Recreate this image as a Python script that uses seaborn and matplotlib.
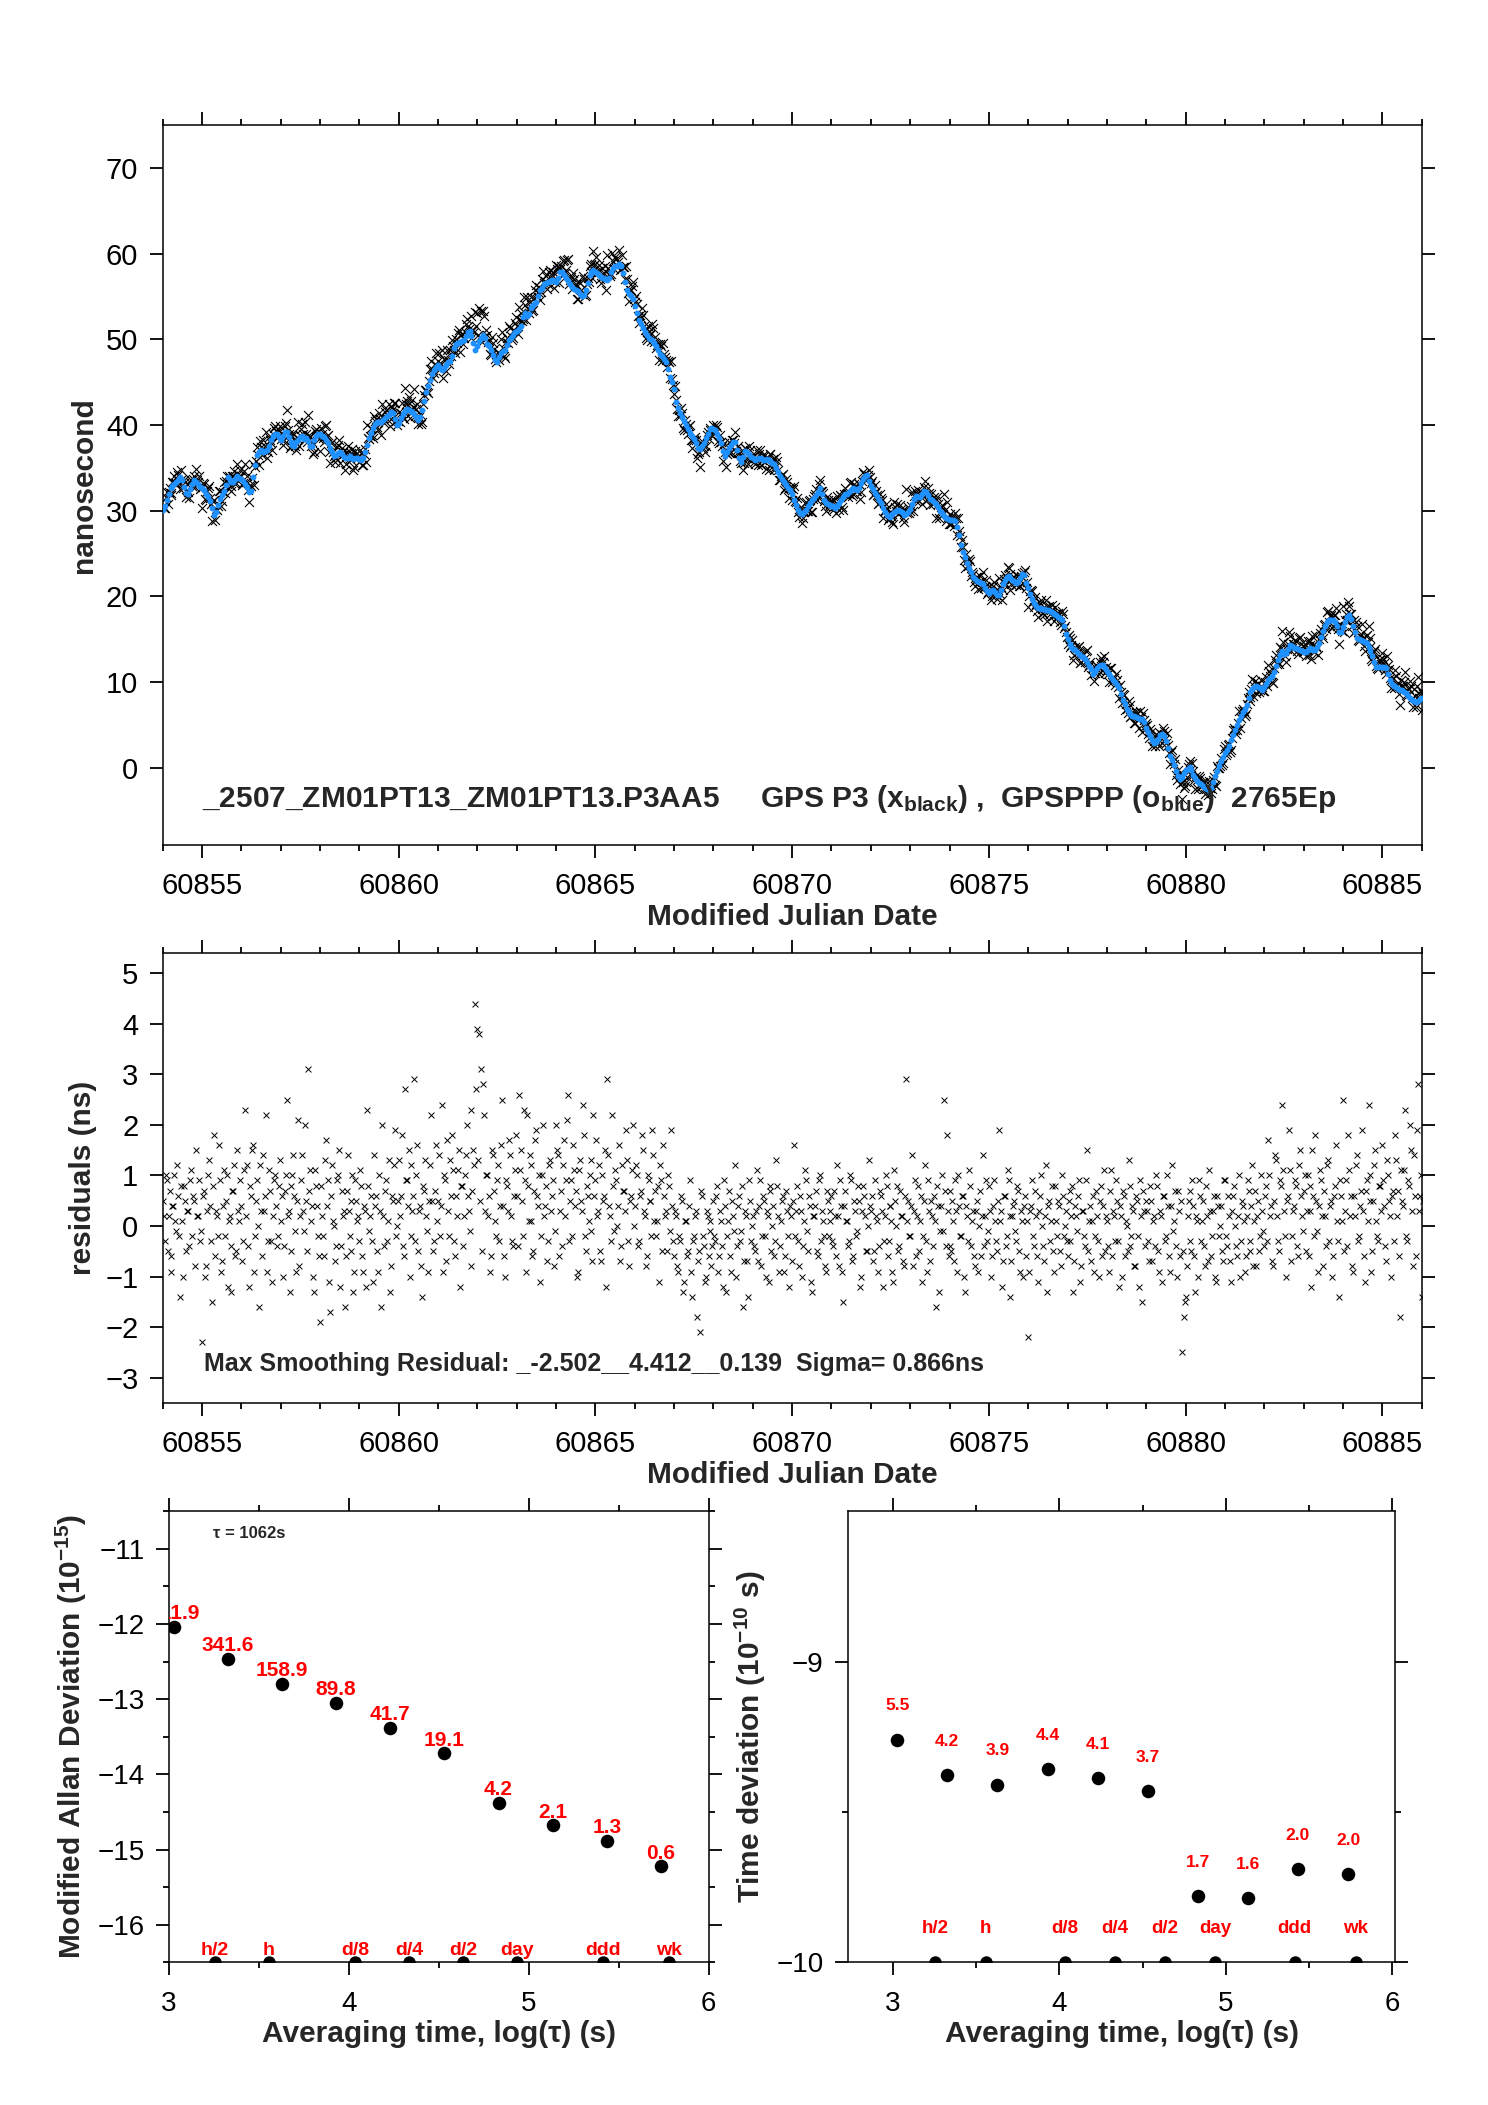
import numpy as np
import matplotlib
matplotlib.use("Agg")
import matplotlib.pyplot as plt
import seaborn as sns
from matplotlib.ticker import FixedLocator, MultipleLocator

# ---------------- data ----------------
mjd_start = 60854.0
mjd_step = 0.05
mjd_half_offset = 0.025

# smoothed (GPSPPP, blue) curve, ns, one value every 0.05 d
blue_ns = [
    30.1,30.6,31.3,32.0,32.7,32.9,33.1,33.3,33.6,33.9,33.6,32.8,32.1,31.9,32.5,33.1,33.6,33.4,33.1,32.8,
    32.6,32.4,32.0,31.6,31.1,30.3,29.5,29.9,30.7,31.4,31.8,32.3,33.0,33.9,33.6,33.3,33.4,33.7,34.0,33.8,
    33.7,33.5,33.1,32.8,32.2,32.3,33.9,35.3,36.5,36.9,37.1,36.9,37.0,37.1,37.5,38.2,38.7,38.9,38.9,38.6,
    38.3,38.7,39.2,39.2,38.6,38.0,37.7,37.6,38.0,38.3,38.6,38.7,38.4,38.5,38.1,37.5,37.6,38.2,38.7,39.0,
    38.9,38.7,38.6,38.3,37.9,37.3,36.8,36.4,36.5,36.7,36.8,36.6,36.3,36.1,36.2,36.4,36.2,36.0,36.1,36.1,
    36.0,35.9,36.2,36.9,37.7,38.5,39.1,39.6,40.1,40.3,40.4,40.4,40.6,40.8,41.0,41.2,41.5,41.4,40.7,40.0,
    40.2,40.8,41.3,41.6,41.9,41.8,41.6,41.5,41.3,40.9,40.6,40.9,41.7,42.8,43.9,44.6,45.3,46.0,46.4,46.8,
    47.0,46.7,46.4,46.7,47.0,47.3,47.5,48.1,49.0,49.4,49.6,49.7,49.8,49.9,50.4,50.9,51.0,50.4,49.6,48.8,
    49.2,49.8,50.2,50.5,50.1,49.5,49.2,48.8,48.2,47.6,47.3,47.9,48.4,48.6,48.8,49.3,49.9,50.2,50.5,50.8,
    51.0,51.2,51.6,52.6,53.1,52.7,53.0,53.7,53.9,54.1,54.4,55.1,55.7,56.0,56.4,56.6,56.7,56.8,56.9,56.8,
    56.7,57.2,57.9,57.9,57.5,57.2,56.8,56.4,56.1,55.9,55.7,55.6,55.3,55.0,55.2,55.7,56.6,57.5,57.9,58.1,
    57.9,57.7,57.5,57.3,57.1,57.0,56.9,57.2,57.9,58.3,58.5,58.6,58.8,58.6,57.7,56.7,55.7,55.3,55.1,54.7,
    53.9,53.1,52.2,51.8,51.3,50.9,50.5,50.1,50.0,49.9,49.6,49.2,48.7,48.3,48.0,47.7,47.3,46.5,45.6,45.0,
    44.2,42.7,42.0,41.4,40.9,40.5,40.0,39.5,39.1,38.7,38.4,37.9,37.3,37.2,37.5,37.9,38.5,39.0,39.5,39.6,
    39.5,39.4,39.0,38.5,37.9,37.0,36.4,36.8,37.3,37.7,38.0,38.0,37.1,36.1,35.7,36.3,37.0,36.9,36.6,36.3,
    36.1,35.9,36.0,36.2,36.1,35.9,35.9,36.0,35.9,35.8,35.6,35.4,35.0,34.5,34.0,33.7,33.3,33.0,32.7,32.4,
    32.0,31.3,30.7,30.1,29.7,29.6,29.8,30.1,30.5,30.9,31.2,31.5,31.8,32.2,32.6,32.0,31.3,30.9,30.8,30.7,
    30.6,30.5,30.3,30.5,30.9,31.3,31.6,31.9,32.0,32.2,32.4,32.6,32.5,32.4,32.6,33.2,33.7,34.1,34.2,33.5,
    32.9,32.5,32.1,31.7,31.3,30.9,30.3,29.8,29.5,29.4,29.3,29.6,29.9,30.0,30.1,30.0,29.8,29.5,29.6,29.9,
    30.2,30.8,31.4,31.7,31.6,31.6,31.9,32.3,32.2,31.8,31.4,31.2,31.0,30.8,30.4,30.0,29.7,29.4,29.2,29.0,
    28.9,28.9,28.9,28.8,28.1,27.2,26.0,25.2,24.6,23.9,23.3,22.8,22.3,22.0,21.8,21.7,21.6,21.4,21.0,20.6,
    20.4,20.6,20.8,20.5,20.2,20.2,20.8,21.4,21.9,22.3,22.4,22.2,21.9,21.8,21.6,21.7,22.1,22.6,22.5,21.6,
    21.0,20.3,19.7,19.2,18.9,18.7,18.6,18.5,18.5,18.4,18.4,18.3,18.2,18.0,17.8,17.6,17.5,17.3,16.5,15.6,
    15.0,14.4,14.1,13.9,13.7,13.5,13.3,13.1,12.9,12.7,12.3,11.9,11.5,11.0,11.3,11.7,11.9,12.0,12.0,11.6,
    11.3,10.9,10.6,10.3,10.0,9.7,9.3,8.6,7.9,7.4,6.9,6.5,6.3,6.1,6.0,5.9,5.8,5.7,5.7,5.3,
    4.7,4.2,3.7,3.3,2.9,3.0,3.4,3.8,4.0,3.7,3.1,2.3,1.4,0.9,0.3,-0.4,-1.0,-1.3,-1.1,-0.6,
    -0.3,-0.1,0.1,-0.3,-0.8,-1.2,-1.5,-1.8,-1.9,-2.1,-2.3,-2.5,-2.6,-2.3,-1.7,-1.0,-0.4,0.2,0.8,1.3,
    1.7,2.1,2.6,3.2,3.8,4.4,5.0,5.6,6.1,6.5,6.9,7.3,8.1,8.8,9.2,9.4,9.5,9.4,9.3,9.1,
    9.4,9.8,10.3,10.5,10.7,11.2,11.9,12.6,13.2,13.6,13.3,13.4,13.9,14.3,14.2,14.0,14.0,13.9,13.8,13.6,
    13.5,13.5,13.8,14.0,13.9,13.7,13.7,14.1,14.6,15.3,16.0,16.6,17.0,17.3,17.3,17.2,17.0,16.5,15.9,15.9,
    16.4,17.0,17.6,17.8,17.4,16.6,15.8,15.2,15.0,14.9,14.8,14.7,14.6,14.1,13.6,13.0,12.4,11.8,11.8,11.8,
    11.8,11.8,11.7,11.0,10.3,9.8,9.6,9.4,9.2,9.1,9.1,8.9,8.7,8.4,8.1,7.9,7.8,7.7,7.8,8.0,
    8.1,
]

# residuals of GPS P3 (black) about the smoothed curve, ns (epochs on the 0.05 d grid)
resid_ns = [
    0.5,-0.3,0.9,0.2,-0.6,0.4,1.0,-0.1,0.6,-1.4,0.1,0.8,-0.5,0.3,0.9,-0.2,0.5,1.5,0.2,-0.3,
    -2.3,0.7,-0.8,1.0,0.4,-1.5,1.8,0.3,-0.2,0.9,-0.7,1.1,0.5,-1.2,0.2,-0.4,0.7,-0.6,1.5,0.1,
    0.4,-0.3,2.3,1.2,-1.2,0.6,1.6,-0.2,0.9,-1.6,0.3,1.4,0.6,-0.9,1.1,-0.3,0.2,1.0,-0.4,0.8,
    0.1,-1.0,0.7,2.5,0.3,-0.5,1.0,0.6,-0.9,2.1,0.2,1.4,-0.1,0.5,3.1,1.1,0.4,-1.3,0.8,-0.2,
    -1.9,0.2,-0.6,1.7,0.9,-1.7,1.2,0.0,-0.4,1.0,-1.2,0.7,0.3,-0.6,1.4,-0.2,0.5,-1.3,0.9,0.1,
    -0.3,0.8,-0.9,0.3,2.3,-0.1,0.6,-1.1,0.4,-0.5,1.0,-1.6,0.2,0.7,-0.3,1.3,-0.8,0.5,1.9,0.0,
    1.3,0.6,-0.4,2.7,0.9,1.5,-0.2,0.3,2.9,1.0,-0.5,0.4,-1.4,0.7,0.2,-0.9,1.2,0.5,-0.3,1.6,
    0.5,-0.2,2.4,1.0,-0.7,0.3,1.3,1.8,-0.3,0.6,1.1,-1.2,0.8,0.2,1.4,0.6,-0.1,2.3,1.5,4.4,
    3.9,3.8,3.1,2.8,0.3,1.0,0.6,-0.6,1.4,0.1,0.9,-0.3,1.6,0.4,-1.0,0.8,1.7,0.2,-0.4,1.1,
    0.6,2.6,1.5,-0.2,0.9,2.2,0.1,1.2,-0.6,0.7,1.9,0.4,-1.1,1.0,0.2,0.8,-0.3,1.3,0.6,-0.8,
    2.0,1.4,0.3,-0.4,1.7,0.9,2.6,0.5,-0.2,1.1,0.7,-0.9,1.3,0.3,1.8,-0.5,0.6,1.0,-0.1,2.2,
    0.9,0.2,1.2,-0.7,0.5,1.5,2.9,0.4,-0.3,0.8,1.1,0.0,1.6,-0.4,0.7,0.3,1.3,-0.8,0.6,2.0,
    0.4,1.0,-0.3,0.7,1.5,0.2,-0.6,0.9,0.5,1.9,0.1,-0.2,0.8,1.2,-0.5,0.6,0.3,1.0,-0.1,0.4,
    -0.6,0.2,-0.9,-0.3,0.5,-1.1,0.1,-0.5,0.9,-1.4,-0.2,0.3,-0.7,-2.1,0.6,-0.4,-1.0,0.2,-0.1,-0.8,
    0.5,-0.3,0.8,-0.6,0.1,-1.2,0.4,-0.2,0.7,-0.9,0.2,1.2,-0.4,0.6,-0.1,-1.6,0.3,-0.7,0.9,-0.3,
    0.2,-0.5,1.1,0.4,-0.8,0.6,-0.2,0.3,-1.1,0.8,0.0,-0.6,1.3,0.2,-0.4,0.5,-0.9,0.7,-0.2,0.4,
    -0.7,1.6,0.3,-0.3,0.6,-1.0,0.1,0.9,-0.5,0.4,-1.3,0.2,0.7,-0.6,1.0,0.3,-0.2,-0.9,0.5,0.1,
    0.6,-0.4,0.2,1.2,-0.8,0.4,-1.5,0.7,0.1,-0.3,0.9,-0.6,0.3,-0.1,0.5,-1.0,0.8,0.2,-0.5,1.3,
    0.3,-0.7,0.9,0.1,-0.4,0.6,-1.2,0.2,0.8,-0.3,0.4,-0.9,1.1,0.0,-0.5,0.7,0.2,-0.8,2.9,0.5,
    -0.2,1.4,0.3,-0.6,0.8,0.1,-1.1,0.5,-0.3,0.9,-0.7,0.2,0.6,-1.6,0.4,-0.1,1.0,2.5,-0.4,0.3,
    0.7,-0.5,0.1,0.9,-0.9,0.4,-0.2,0.6,-1.3,0.2,1.1,-0.4,0.3,-0.8,0.5,0.0,-0.6,1.4,0.2,-0.3,
    0.8,-1.0,0.4,0.1,-0.5,1.9,0.3,-0.7,0.6,-0.2,0.9,-1.4,0.2,0.5,-0.3,0.7,-0.9,0.1,0.4,-0.6,
    -2.2,0.3,0.9,-0.4,0.2,-1.1,0.6,0.0,-0.7,1.2,0.4,-0.3,0.8,-0.9,0.1,0.5,-0.5,1.0,-0.2,0.3,
    -0.6,0.7,0.2,-1.3,0.4,-0.1,0.9,-0.8,0.3,-0.4,1.5,0.1,-0.7,0.6,-0.2,0.2,-1.0,0.8,0.4,-0.5,
    0.1,-0.9,1.1,0.3,-0.3,0.5,-1.2,0.2,0.7,-0.6,0.0,1.3,-0.4,0.4,-0.8,0.6,-0.2,0.9,-1.5,0.3,
    0.5,-0.3,0.8,-0.7,0.2,1.0,-0.5,0.3,-1.1,0.6,-0.2,0.4,-0.9,1.2,0.1,-0.4,0.7,-0.6,-2.5,-1.8,
    -1.4,0.2,0.7,-0.5,0.4,-1.3,0.1,0.9,-0.3,0.5,-0.8,0.2,1.1,-0.6,0.3,-1.0,0.6,-0.2,0.4,-0.7,
    0.9,-0.4,0.2,-1.1,0.6,0.0,-0.6,1.0,-0.3,0.4,-0.9,0.2,0.7,-0.5,1.2,0.1,-0.8,0.5,-0.2,0.3,
    -0.4,0.8,1.7,0.2,-0.7,0.5,1.3,-0.3,0.9,2.4,0.3,-1.0,0.6,1.1,-0.2,0.4,0.8,-0.6,1.5,0.2,
    0.7,-0.5,1.0,0.3,-1.2,0.6,1.8,-0.1,0.4,0.9,-0.8,0.2,1.2,-0.3,0.5,-0.6,0.8,0.1,-1.4,0.6,
    2.5,0.3,-0.4,1.1,0.6,-0.9,0.2,1.4,-0.2,0.7,0.3,-1.1,0.9,2.4,0.5,-0.5,1.2,0.1,-0.3,0.8,
    1.6,0.4,-0.7,1.0,0.2,0.6,-0.3,1.3,0.7,-1.8,0.5,1.1,-0.2,0.9,2.0,0.3,1.4,-0.6,2.8,0.6,
    -1.4,
]

# residuals at the in-between epochs (0.025 d after each grid epoch), ns
resid2_ns = [
    0.2,1.0,-0.5,0.7,-0.9,0.4,0.1,1.2,-0.2,0.8,-1.0,0.5,0.3,-0.4,1.1,0.6,-0.8,0.2,0.9,-0.1,
    0.6,-1.0,0.3,1.3,-0.3,0.8,-0.6,0.2,1.6,-0.9,0.4,-0.2,1.0,0.1,-1.3,0.7,1.2,-0.5,0.3,0.9,
    -0.7,1.1,0.2,-0.4,0.8,1.5,-0.9,0.5,0.0,1.2,-0.6,0.3,2.2,-0.3,0.7,-1.1,0.9,0.4,-0.2,1.3,
    0.6,-0.4,1.0,0.2,-1.3,0.8,1.4,-0.1,0.5,-0.8,0.9,0.3,2.0,-0.5,0.7,0.1,-1.0,1.1,0.4,-0.6,
    0.8,-0.2,1.3,0.4,-1.1,0.6,0.1,-0.7,0.9,1.5,-0.4,0.2,-1.6,0.7,0.3,-0.5,1.0,-0.9,0.5,0.2,
    1.1,-0.6,0.4,-1.2,0.8,0.2,-0.3,1.4,0.6,-0.9,0.3,2.0,-0.4,0.9,0.1,-1.3,0.6,1.2,-0.2,0.5,
    0.2,1.8,-0.6,0.9,0.4,-1.0,1.2,0.6,-0.3,1.6,0.3,-0.8,0.8,1.3,-0.1,0.5,2.2,-0.5,0.7,0.1,
    1.4,0.4,-0.9,0.9,1.7,-0.2,0.6,1.1,-0.6,0.2,1.5,0.8,-0.4,1.0,2.0,0.3,-0.8,0.7,1.2,2.7,
    1.3,0.5,-0.5,2.2,1.0,0.2,-0.9,1.5,0.7,-0.2,1.2,0.4,2.5,-0.6,0.9,0.3,1.4,-0.3,0.6,1.8,
    -0.4,1.1,0.5,2.3,-0.9,0.8,1.4,0.1,-0.5,1.7,0.6,1.0,-0.2,2.0,0.4,-0.7,1.2,0.3,0.9,-0.1,
    1.5,-0.6,0.7,1.2,0.2,2.1,-0.3,0.9,1.6,0.4,-1.0,1.1,0.5,2.4,-0.2,0.8,0.1,1.3,-0.7,0.6,
    1.7,0.3,-0.5,1.0,0.6,-1.2,1.4,0.2,2.2,-0.1,0.9,0.4,-0.7,1.2,0.7,1.9,-0.3,0.5,1.1,0.0,
    1.2,-0.4,0.6,1.8,0.3,-0.8,1.0,0.5,-0.2,1.4,0.7,0.1,-1.1,0.9,1.6,0.2,-0.5,0.8,1.9,-0.3,
    0.3,-0.8,-0.2,0.6,-1.3,0.1,-0.6,0.4,-0.9,-0.3,0.2,-1.8,-0.5,0.7,-0.2,-1.1,0.3,-0.6,0.1,-0.4,
    -0.2,0.6,-0.9,0.3,-0.4,0.9,-1.3,0.1,-0.6,0.5,-0.1,-1.0,0.4,-0.3,0.8,-0.7,0.2,-1.4,0.5,0.0,
    -0.4,0.3,-0.7,0.9,-0.2,0.5,-1.0,0.2,0.7,-0.5,0.4,-0.3,0.8,-0.9,0.1,0.6,-0.6,0.3,-1.2,0.2,
    0.5,-0.2,0.8,-0.8,0.3,-0.4,1.1,-0.1,0.6,-1.1,0.2,0.4,-0.5,0.9,-0.3,0.1,-0.8,0.7,-0.2,0.3,
    -0.3,0.7,-0.6,0.2,0.9,-0.9,0.4,0.1,-0.4,1.0,-0.7,0.5,-0.2,0.8,-1.2,0.3,0.6,-0.5,0.0,0.4,
    0.6,-0.5,0.2,-0.9,0.7,0.3,-0.3,1.0,-0.6,0.4,0.1,-1.1,0.5,0.8,-0.4,0.2,-0.7,0.6,0.1,-0.2,
    0.4,-0.8,0.9,0.2,-0.5,0.6,-0.2,1.2,-0.9,0.3,0.5,-0.4,0.1,0.8,-1.3,0.4,-0.1,0.7,1.8,-0.6,
    -0.4,0.5,-0.7,0.3,1.0,-0.2,0.6,-1.0,0.4,-0.3,0.8,0.1,-0.6,0.3,-0.9,0.7,0.2,-0.4,0.9,-0.1,
    0.3,-0.6,0.9,-0.3,0.5,0.1,-1.2,0.6,-0.4,1.1,0.2,-0.7,0.4,-0.1,0.8,-0.5,0.3,-1.0,0.6,0.1,
    -0.9,0.4,-0.2,0.7,-0.6,0.3,1.0,-0.4,0.2,-1.3,0.5,0.1,-0.5,0.8,-0.2,0.4,-0.8,0.6,0.0,-0.3,
    0.5,-0.3,0.8,-0.7,0.2,0.6,-1.1,0.3,-0.2,0.9,-0.5,0.4,0.1,-0.9,0.7,-0.3,0.5,-0.6,1.1,0.2,
    -0.4,0.7,-0.6,0.2,0.9,-0.3,0.4,-1.0,0.6,0.1,-0.5,0.8,-0.2,0.3,-0.8,0.5,-1.2,0.2,0.7,-0.4,
    0.3,-0.7,0.5,0.1,-0.4,0.8,-0.9,0.2,0.6,-0.3,1.0,-0.6,0.4,-0.1,0.7,-1.0,0.3,0.5,-0.5,-1.5,
    -0.8,0.5,-0.3,0.9,-0.6,0.2,-1.0,0.6,0.1,-0.4,0.8,-0.7,0.3,-0.2,0.6,-1.1,0.4,0.0,-0.5,0.9,
    -0.2,0.6,-0.7,0.3,0.8,-0.4,0.2,-1.0,0.5,0.1,-0.6,0.9,-0.3,0.4,-0.8,0.7,0.2,-0.5,1.0,-0.1,
    0.6,-0.3,1.0,0.4,-0.8,1.4,0.2,-0.5,0.8,1.1,-0.2,0.5,1.9,-0.7,0.3,0.9,-0.4,1.2,0.6,-0.1,
    1.0,0.3,-0.6,0.8,1.5,-0.2,0.5,-0.9,1.1,0.2,0.7,-0.4,1.3,0.4,-1.0,0.6,1.6,-0.3,0.9,0.1,
    -0.5,0.9,1.8,0.2,-0.8,0.6,1.2,-0.3,0.4,1.9,-0.6,0.7,0.1,1.0,-0.9,0.5,1.5,-0.2,0.8,0.3,
    0.9,-0.4,1.3,0.5,-1.0,0.7,1.8,0.2,-0.6,1.1,0.4,2.3,-0.3,0.8,1.5,-0.8,0.6,1.9,0.3,1.0,
    0.5,
]

mjd_ticks = [60855, 60860, 60865, 60870, 60875, 60880, 60885]
ns_ticks = [0, 10, 20, 30, 40, 50, 60, 70]
res_ticks = [-3, -2, -1, 0, 1, 2, 3, 4, 5]

# stability analysis
log_tau = [3.026, 3.327, 3.628, 3.929, 4.230, 4.531, 4.832, 5.133, 5.434, 5.735]
mdev_e15 = [911.9, 341.6, 158.9, 89.8, 41.7, 19.1, 4.2, 2.1, 1.3, 0.6]      # x 1e-15
tdev_e10 = [5.5, 4.2, 3.9, 4.4, 4.1, 3.7, 1.66, 1.64, 2.04, 1.97]            # x 1e-10 s
mark_names = ["h/2", "h", "d/8", "d/4", "d/2", "day", "ddd", "wk"]
mark_seconds = [1800, 3600, 10800, 21600, 43200, 86400, 259200, 604800]

title_text = (r"_2507_ZM01PT13_ZM01PT13.P3AA5     GPS P3 (x$_{\rm black}$) ,  "
              r"GPSPPP (o$_{\rm blue}$)  2765Ep")
resid_text = "Max Smoothing Residual: _-2.502__4.412__0.139  Sigma= 0.866ns"

# ---------------- style ----------------
sns.set_theme(style="ticks")
plt.rcParams["font.family"] = ["Liberation Sans", "DejaVu Sans"]
plt.rcParams["mathtext.fontset"] = "custom"
plt.rcParams["mathtext.rm"] = "Liberation Sans:bold"
plt.rcParams["mathtext.it"] = "Liberation Sans:bold"
plt.rcParams["mathtext.bf"] = "Liberation Sans:bold"
plt.rcParams["axes.unicode_minus"] = True

BLUE = "#1E90FF"
n = min(len(blue_ns), len(resid_ns), len(resid2_ns))
t = mjd_start + mjd_step * np.arange(n)
t2 = t + mjd_half_offset
blue = np.array(blue_ns[:n])
resid = np.array(resid_ns[:n])
resid2 = np.array(resid2_ns[:n])
black = blue + resid
black2 = blue + resid2
t_all = np.concatenate([t, t2])
black_all = np.concatenate([black, black2])
resid_all = np.concatenate([resid, resid2])

fig = plt.figure(figsize=(14.88, 21.05), dpi=100)
ax1 = fig.add_axes([0.1093, 0.5986, 0.8461, 0.3420])
ax2 = fig.add_axes([0.1093, 0.3335, 0.8461, 0.2138])
ax3 = fig.add_axes([0.1136, 0.0678, 0.3626, 0.2143])
ax4 = fig.add_axes([0.5699, 0.0678, 0.3679, 0.2143])


def style(ax, lab=20, ypad=8, xpad=10):
    for s in ax.spines.values():
        s.set_linewidth(1.1)
        s.set_color("black")
    ax.tick_params(which="both", direction="out", top=True, right=True,
                   labeltop=False, labelright=False, width=1.3, color="black",
                   labelcolor="black", labelsize=lab)
    ax.tick_params(which="major", length=9.5)
    ax.tick_params(which="minor", length=4.5)
    ax.tick_params(axis="y", pad=ypad)
    ax.tick_params(axis="x", pad=xpad)


# ---- top panel ----
sns.scatterplot(x=t_all, y=black_all, ax=ax1, marker="x", color="black", s=42,
                linewidth=0.8, zorder=2)
sns.scatterplot(x=t, y=blue, ax=ax1, marker="o", color=BLUE, s=18,
                linewidth=0, zorder=3)
ax1.set_xlim(60854, 60886)
ax1.set_ylim(-9, 75)
ax1.xaxis.set_major_locator(FixedLocator(mjd_ticks))
ax1.set_xticklabels([str(v) for v in mjd_ticks])
ax1.xaxis.set_minor_locator(MultipleLocator(1))
ax1.yaxis.set_major_locator(FixedLocator(ns_ticks))
ax1.set_yticklabels([str(v) for v in ns_ticks])
style(ax1, lab=21)
ax1.set_xlabel("Modified Julian Date", fontsize=21.5, fontweight="bold", labelpad=2)
ax1.set_ylabel("nanosecond", fontsize=21.5, fontweight="bold", labelpad=6)
ax1.text(60855.0, -4.6, title_text, fontsize=21.5, fontweight="bold",
         va="baseline", ha="left")

# ---- middle panel ----
sns.scatterplot(x=t_all, y=resid_all, ax=ax2, marker="x", color="black", s=18,
                linewidth=0.7)
ax2.set_xlim(60854, 60886)
ax2.set_ylim(-3.5, 5.4)
ax2.xaxis.set_major_locator(FixedLocator(mjd_ticks))
ax2.set_xticklabels([str(v) for v in mjd_ticks])
ax2.xaxis.set_minor_locator(MultipleLocator(1))
ax2.yaxis.set_major_locator(FixedLocator(res_ticks))
ax2.set_yticklabels([("\u2212" + str(-v)) if v < 0 else str(v) for v in res_ticks])
style(ax2, lab=21)
ax2.set_xlabel("Modified Julian Date", fontsize=21.5, fontweight="bold", labelpad=2)
ax2.set_ylabel("residuals (ns)", fontsize=21.5, fontweight="bold", labelpad=6)
ax2.text(60855.05, -2.87, resid_text, fontsize=18, fontweight="bold",
         va="baseline", ha="left")

# ---- bottom-left: modified Allan deviation ----
mdev_log = np.log10(np.array(mdev_e15) * 1e-15)
mark_x = np.log10(np.array(mark_seconds, dtype=float))
sns.scatterplot(x=log_tau, y=mdev_log, ax=ax3, color="black", s=95, linewidth=0,
                zorder=3)
sns.scatterplot(x=mark_x, y=[-16.5] * len(mark_x), ax=ax3, color="black", s=80,
                linewidth=0, zorder=3)
for x, y, v in zip(log_tau, mdev_log, mdev_e15):
    ax3.annotate(f"{v:.1f}", (x, y), xytext=(0, 5.5), textcoords="offset points",
                 ha="center", va="baseline", color="red", fontsize=15,
                 fontweight="bold", clip_on=True)
for x, name in zip(mark_x, mark_names):
    ax3.annotate(name, (x, -16.5), xytext=(0, 5), textcoords="offset points",
                 ha="center", va="baseline", color="red", fontsize=14,
                 fontweight="bold")
ax3.text(3.245, -10.8, "\u03c4 = 1062s", fontsize=12, fontweight="bold", va="center")
ax3.set_xlim(3, 6)
ax3.set_ylim(-16.5, -10.5)
ax3.xaxis.set_major_locator(FixedLocator([3, 4, 5, 6]))
ax3.set_xticklabels(["3", "4", "5", "6"])
ax3.xaxis.set_minor_locator(MultipleLocator(0.5))
ax3.yaxis.set_major_locator(FixedLocator([-16, -15, -14, -13, -12, -11]))
ax3.set_yticklabels(["\u221216", "\u221215", "\u221214", "\u221213", "\u221212", "\u221211"])
ax3.yaxis.set_minor_locator(MultipleLocator(0.5))
style(ax3, lab=20, xpad=11)
ax3.set_xlabel("Averaging time, log(\u03c4) (s)", fontsize=21.5, fontweight="bold", labelpad=2)
ax3.set_ylabel(r"Modified Allan Deviation (10$^{-15}$)", fontsize=21.5,
               fontweight="bold", labelpad=6)

# ---- bottom-right: time deviation ----
tdev_log = np.log10(np.array(tdev_e10) * 1e-10)
sns.scatterplot(x=log_tau, y=tdev_log, ax=ax4, color="black", s=95, linewidth=0,
                zorder=3)
sns.scatterplot(x=mark_x, y=[-10.0] * len(mark_x), ax=ax4, color="black", s=80,
                linewidth=0, zorder=3)
for x, y, v in zip(log_tau, tdev_log, tdev_e10):
    ax4.annotate(f"{v:.1f}", (x, y), xytext=(0, 21), textcoords="offset points",
                 ha="center", va="baseline", color="red", fontsize=12.5,
                 fontweight="bold")
for x, name in zip(mark_x, mark_names):
    ax4.annotate(name, (x, -10.0), xytext=(0, 21), textcoords="offset points",
                 ha="center", va="baseline", color="red", fontsize=13.5,
                 fontweight="bold")
ax4.set_xlim(2.73, 6.02)
ax4.set_ylim(-10.0, -8.5)
ax4.xaxis.set_major_locator(FixedLocator([3, 4, 5, 6]))
ax4.set_xticklabels(["3", "4", "5", "6"])
ax4.xaxis.set_minor_locator(FixedLocator([3.5, 4.5, 5.5]))
ax4.yaxis.set_major_locator(FixedLocator([-10, -9]))
ax4.set_yticklabels(["\u221210", "\u22129"])
ax4.yaxis.set_minor_locator(FixedLocator([-9.5]))
style(ax4, lab=20, xpad=11)
ax4.set_xlabel("Averaging time, log(\u03c4) (s)", fontsize=21.5, fontweight="bold", labelpad=2)
ax4.set_ylabel(r"Time deviation (10$^{-10}$ s)", fontsize=21.5, fontweight="bold",
               labelpad=6)

fig.savefig("out.png", dpi=100)
